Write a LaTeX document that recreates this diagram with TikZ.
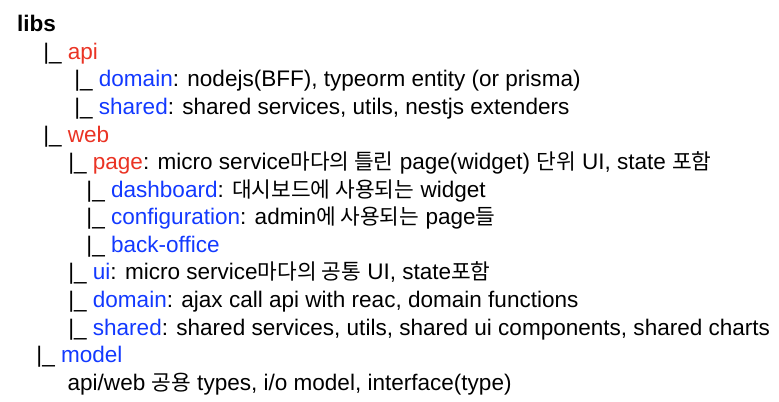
\documentclass[tikz,border=0pt]{standalone}
\usepackage{fontspec}
\setmainfont{Liberation Sans}
\newfontfamily\kofont{Noto Sans CJK KR}[Scale=0.95]
\usetikzlibrary{positioning}
\definecolor{pkgred}{HTML}{EA3324}
\definecolor{modblue}{HTML}{1239FF}
\newcommand{\ko}[1]{{\kofont #1}}
\newcommand{\pkg}[1]{\textcolor{pkgred}{#1}}
\newcommand{\modname}[1]{\textcolor{modblue}{#1}}

\begin{document}
\begin{tikzpicture}[font=\fontsize{16.9pt}{20.3pt}\selectfont,
  row/.style={inner sep=0pt,text height=15pt,text depth=5.29pt,anchor=north west}]
  \useasboundingbox (0,0) rectangle (584.25pt,-300.75pt);
  \node[row,anchor=base west] (libs) at (12.6pt,-23.78pt) {\textbf{libs}};
  \node[row,below right=0pt and 19.65pt of libs.south west] (api) {|\_ \pkg{api}};
  \node[row,below right=0pt and 23.25pt of api.south west] (apidomain) {|\_ \modname{domain}: nodejs(BFF), typeorm entity (or prisma)};
  \node[row,below right=0pt and 0pt of apidomain.south west] (apishared) {|\_ \modname{shared}: shared services, utils, nestjs extenders};
  \node[row,below right=0pt and -23.25pt of apishared.south west] (web) {|\_ \pkg{web}};
  \node[row,below right=0pt and 18.75pt of web.south west] (page) {|\_ \pkg{page}: micro service\ko{마다의 틀린} page(widget) \ko{단위} UI, state \ko{포함}};
  \node[row,below right=0pt and 13.65pt of page.south west] (dashboard) {|\_ \modname{dashboard}: \ko{대시보드에 사용되는} widget};
  \node[row,below right=0pt and 0pt of dashboard.south west] (config) {|\_ \modname{configuration}: admin\ko{에 사용되는} page\ko{들}};
  \node[row,below right=0pt and 0pt of config.south west] (backoffice) {|\_ \modname{back-office}};
  \node[row,below right=0pt and -13.65pt of backoffice.south west] (ui) {|\_ \modname{ui}: micro service\ko{마다의 공통} UI, state\ko{포함}};
  \node[row,below right=0pt and 0pt of ui.south west] (webdomain) {|\_ \modname{domain}: ajax call api with reac, domain functions};
  \node[row,below right=0pt and 0pt of webdomain.south west] (webshared) {|\_ \modname{shared}: shared services, utils, shared ui components, shared charts};
  \node[row,below right=0pt and -23.85pt of webshared.south west] (model) {|\_ \modname{model}};
  \node[row,below right=0pt and 23.4pt of model.south west] (modeldesc) {api/web \ko{공용} types, i/o model, interface(type)};
\end{tikzpicture}
\end{document}
